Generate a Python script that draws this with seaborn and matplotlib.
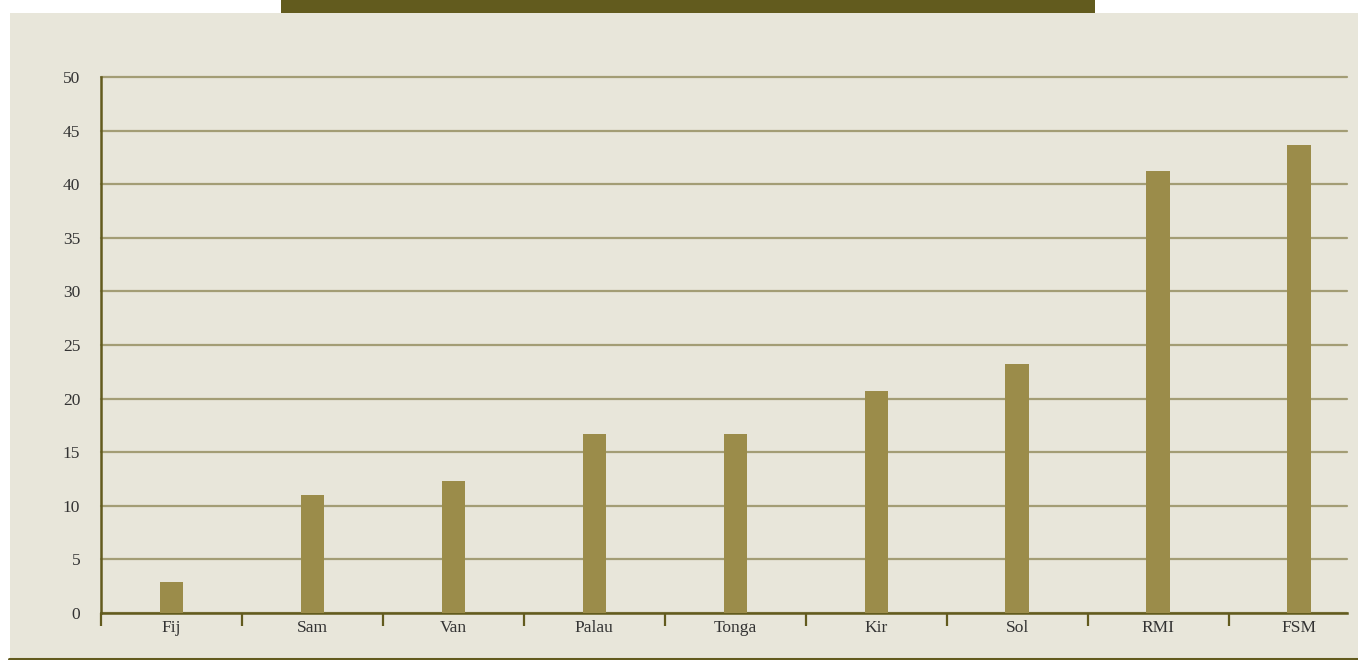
import matplotlib
matplotlib.use("Agg")
import matplotlib.pyplot as plt
from matplotlib.patches import Rectangle
from matplotlib.lines import Line2D
import seaborn as sns
import pandas as pd

# dati
paesi = ['Fij', 'Sam', 'Van', 'Palau', 'Tonga', 'Kir', 'Sol', 'RMI', 'FSM']
valori = [2.9, 11.0, 12.3, 16.7, 16.7, 20.7, 23.2, 41.2, 43.7]
y_ticks = [0, 5, 10, 15, 20, 25, 30, 35, 40, 45, 50]

df = pd.DataFrame({'paese': paesi, 'valore': valori})

sfondo = '#E8E6DA'
oliva_scuro = '#625B1E'
colore_barre = '#9B8C4A'
colore_griglia = '#A39D75'

sns.set_style('white')
plt.rcParams['font.family'] = ['Liberation Serif', 'DejaVu Serif']

W, H = 1358, 660
fig = plt.figure(figsize=(W / 100, H / 100), dpi=100)
fig.patch.set_facecolor('white')

# pannello beige e banner in alto
fig.patches.append(Rectangle((10 / W, 0), 1 - 10 / W, 1 - 13 / H, transform=fig.transFigure,
                             facecolor=sfondo, edgecolor='none', zorder=-2))
fig.patches.append(Rectangle((281 / W, 1 - 13 / H), (1095 - 281) / W, 13 / H, transform=fig.transFigure,
                             facecolor=oliva_scuro, edgecolor='none', zorder=-1))
fig.lines.append(Line2D([9 / W, 1], [1.5 / H, 1.5 / H], transform=fig.transFigure,
                        color=oliva_scuro, linewidth=2.2))

ax = fig.add_axes([101 / W, (H - 613) / H, (1347 - 101) / W, (613 - 77) / H])
ax.set_facecolor('none')

sns.barplot(data=df, x='paese', y='valore', color=colore_barre, width=0.166,
            saturation=1, linewidth=0, edgecolor='none', ax=ax, zorder=3)

# l'asse finisce un po' prima dell'ultima categoria, come nell'originale
ax.set_xlim(-0.5, len(paesi) - 0.66)
ax.set_ylim(0, 50)
ax.set_yticks(y_ticks)
ax.set_yticklabels([str(v) for v in y_ticks])
ax.grid(axis='y', color=colore_griglia, linewidth=1.6, zorder=0)
for g in ax.get_ygridlines():
    g.set_clip_on(False)
ax.set_axisbelow(True)

# etichette al centro, tacche ai confini
ax.set_xticks(range(len(paesi)))
ax.set_xticklabels(paesi)
ax.set_xticks([i - 0.5 for i in range(len(paesi))], minor=True)
ax.tick_params(axis='x', which='both', bottom=True)
ax.tick_params(axis='x', which='major', length=0, pad=5, labelsize=12.5, labelcolor='#333333')
ax.tick_params(axis='x', which='minor', length=9, width=1.6, color=oliva_scuro, direction='out')
ax.tick_params(axis='y', length=0, pad=15, labelsize=12.5, labelcolor='#333333')

for lato in ['top', 'right']:
    ax.spines[lato].set_visible(False)
for lato in ['left', 'bottom']:
    ax.spines[lato].set_color(oliva_scuro)
    ax.spines[lato].set_linewidth(1.8)

ax.set_xlabel('')
ax.set_ylabel('')

fig.savefig('out.png', dpi=100, facecolor=fig.get_facecolor())
